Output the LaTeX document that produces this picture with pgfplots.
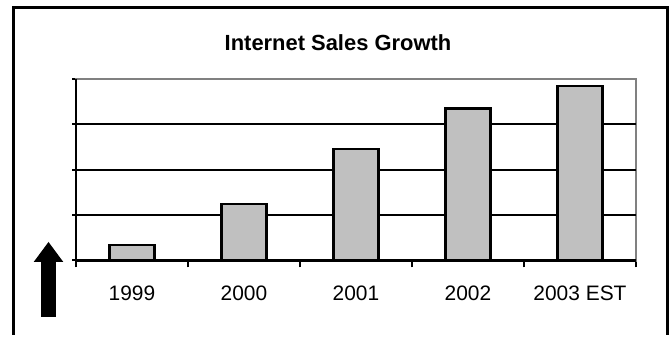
\documentclass[border=0pt]{standalone}
\usepackage{fontspec}
\setmainfont{Liberation Sans}
\usepackage{pgfplots}
\pgfplotsset{compat=1.18}
\definecolor{barfill}{RGB}{192,192,192}
\definecolor{boxgray}{RGB}{128,128,128}
\begin{document}
\begin{tikzpicture}
\begin{axis}[
  scale only axis, clip=false,
  width=560bp, height=181.5bp,
  xmin=0.5, xmax=5.5, ymin=0, ymax=4,
  xtick={1,...,5}, xticklabels={1999,2000,2001,2002,2003 EST},
  major x tick style={draw=none},
  minor xtick={0.5,1.5,...,5.5},
  minor x tick style={black, line width=2bp},
  ytick={0,...,4}, yticklabels={},
  y tick style={black, line width=2bp},
  extra y ticks={1,2,3}, extra y tick labels={},
  extra y tick style={grid=major, major grid style={black, line width=2.2bp}},
  tick align=outside, xtick pos=bottom, ytick pos=left,
  minor tick length=7bp, major tick length=4bp,
  xticklabel style={font=\fontsize{21}{23}\selectfont, yshift=-18bp},
  axis line style={draw=boxgray, line width=2.4bp},
]
\addplot[ybar, bar width=45bp, fill=barfill, draw=black, line width=2.5bp]
  coordinates {(1,0.34) (2,1.24) (3,2.46) (4,3.35) (5,3.85)};
\draw[black, line width=2.4bp] (rel axis cs:0,1) -- (rel axis cs:0,0) -- (rel axis cs:1,0);
% invisible frame of the whole picture (670 x 335 px)
\path (axis cs:-0.1786,-1.6419) rectangle (axis cs:5.8036,5.7410);
% outer border
\draw[line width=3bp] (axis cs:-0.0536,-1.6419) -- (axis cs:-0.0536,5.5691) -- (axis cs:5.7768,5.5691) -- (axis cs:5.7768,-1.6419);
% title
\node[font=\fontsize{22}{24}\selectfont\bfseries] at (axis cs:2.8393,4.7934) {Internet Sales Growth};
% arrow
\fill (axis cs:0.2545,0.4077) -- (axis cs:0.3866,-0.0331) -- (axis cs:0.3214,-0.0331) -- (axis cs:0.3214,-1.2452) -- (axis cs:0.1875,-1.2452) -- (axis cs:0.1875,-0.0331) -- (axis cs:0.1223,-0.0331) -- cycle;
\end{axis}
\end{tikzpicture}
\end{document}
